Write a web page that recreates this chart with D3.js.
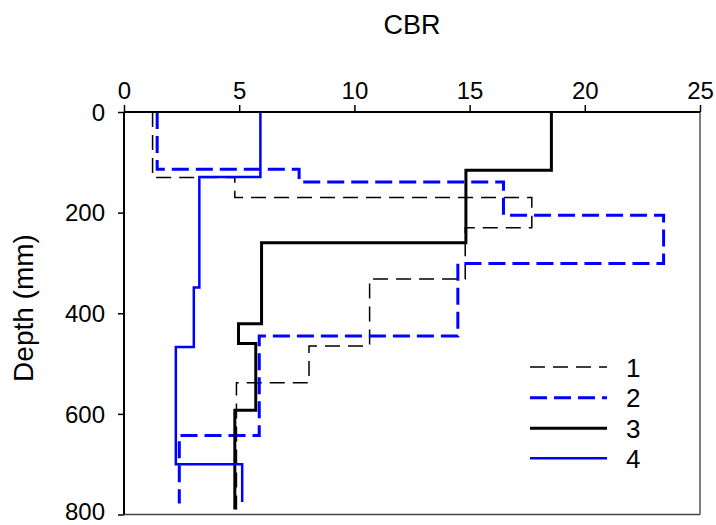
<!DOCTYPE html>
<html><head><meta charset="utf-8">
<script src="https://cdn.jsdelivr.net/npm/d3@7"></script>
<style>
body{margin:0;background:#fff;}
text{font-family:Arial,"Liberation Sans",sans-serif;fill:#000;}
</style></head>
<body>
<svg id="chart" width="716" height="525"></svg>
<script>
const xTicks = [0,5,10,15,20,25];
const yTicks = [0,200,400,600,800];
const seriesNames = ["1","2","3","4"];
const depths1 = [0,130,170,230,332,465,538,790];
const cbr1    = [1.24,4.81,17.7,14.81,10.66,8.03,4.88];
const depths2 = [0,114,139,205,301,445,643,778];
const cbr2    = [1.44,7.6,16.47,23.42,14.49,5.87,2.4];
const depths3 = [0,116,260,421,460,593,790];
const cbr3    = [18.55,14.84,5.97,4.97,5.72,4.81];
const depths4 = [0,129,349,467,700,775];
const cbr4    = [5.92,3.27,3.03,2.25,5.13];

const styles = [
  {color:"#000", width:1.5, dash:"15,8"},
  {color:"#0000ff", width:3, dash:"17,7"},
  {color:"#000", width:3, dash:null},
  {color:"#0000ff", width:2.5, dash:null}
];
const series = [
  {name:seriesNames[0], d:depths1, c:cbr1},
  {name:seriesNames[1], d:depths2, c:cbr2},
  {name:seriesNames[2], d:depths3, c:cbr3},
  {name:seriesNames[3], d:depths4, c:cbr4}
];

const svg = d3.select("#chart");
const L=124, R=700, T=112, B=514.5;
const x = d3.scaleLinear().domain([0,25]).range([L,R]);
const y = d3.scaleLinear().domain([0,800]).range([T,B]);

// frame
svg.append("line").attr("x1",R).attr("x2",R).attr("y1",T).attr("y2",B).attr("stroke","#555").attr("stroke-width",1.5);
svg.append("line").attr("x1",L).attr("x2",R).attr("y1",B).attr("y2",B).attr("stroke","#444").attr("stroke-width",1.5);

// series
const line = d3.line().x(p=>x(p[0])).y(p=>y(p[1])).curve(d3.curveLinear);
series.forEach((s,i)=>{
  const pts=[];
  for(let k=0;k<s.c.length;k++){
    pts.push([s.c[k], s.d[k]]);
    pts.push([s.c[k], s.d[k+1]]);
  }
  const p = svg.append("path").datum(pts).attr("d",line)
    .attr("fill","none").attr("stroke",styles[i].color)
    .attr("stroke-width",styles[i].width);
  if(styles[i].dash) p.attr("stroke-dasharray",styles[i].dash);
});

// top axis
const xAxis = d3.axisTop(x).tickValues(xTicks).tickSize(7).tickPadding(6).tickFormat(d3.format("d"));
const gx = svg.append("g").attr("transform",`translate(0,${T})`).call(xAxis);
gx.select(".domain").attr("stroke","#000").attr("stroke-width",2).attr("d",`M${L},0H${R}`);
gx.selectAll(".tick line").attr("stroke","#000").attr("stroke-width",1.5);
gx.selectAll(".tick text").style("font-size","24px").style("font-family","Arial, 'Liberation Sans', sans-serif").attr("fill","#000");

const yAxis = d3.axisLeft(y).tickValues(yTicks).tickSize(6).tickPadding(13).tickFormat(d3.format("d"));
const gy = svg.append("g").attr("transform",`translate(${L},0)`).call(yAxis);
gy.select(".domain").attr("stroke","#000").attr("stroke-width",2).attr("d",`M0,${T}V${B}`);
gy.selectAll(".tick line").attr("stroke","#000").attr("stroke-width",1.5);
gy.selectAll(".tick text").style("font-size","24px").style("font-family","Arial, 'Liberation Sans', sans-serif").attr("fill","#000")
  .attr("dy", d => d === yTicks[yTicks.length-1] ? "0.2em" : "0.34em");

// titles
svg.append("text").attr("x",412).attr("y",34).attr("text-anchor","middle").style("font-size","27px").text("CBR");
svg.append("text").attr("transform","translate(33,308) rotate(-90)").attr("text-anchor","middle").style("font-size","28px").text("Depth (mm)");

// legend
const legY = [367,397.7,428.3,458.3];
series.forEach((s,i)=>{
  const l = svg.append("line").attr("x1",530).attr("x2",607).attr("y1",legY[i]).attr("y2",legY[i])
    .attr("stroke",styles[i].color).attr("stroke-width",styles[i].width);
  if(styles[i].dash) l.attr("stroke-dasharray",styles[i].dash);
  svg.append("text").attr("x",626).attr("y",legY[i]+9.5).style("font-size","26px").text(s.name);
});
</script>
</body></html>
